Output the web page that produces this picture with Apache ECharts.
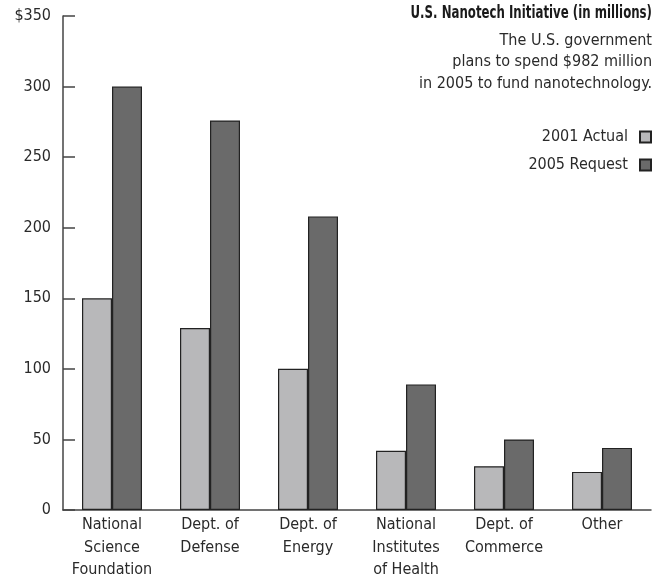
<!DOCTYPE html>
<html>
<head>
<meta charset="utf-8">
<script src="https://cdn.jsdelivr.net/npm/echarts@6/dist/echarts.min.js"></script>
<style>
  html, body { margin: 0; padding: 0; background: #fff; overflow: hidden; }
  #chart { width: 654px; height: 579px; }
</style>
</head>
<body>
<div id="chart"></div>
<script>
// Agencies funded under the U.S. Nanotech Initiative
const categories = [
  'National\nScience\nFoundation',
  'Dept. of\nDefense',
  'Dept. of\nEnergy',
  'National\nInstitutes\nof Health',
  'Dept. of\nCommerce',
  'Other'
];
// Spending in millions of dollars
const actual2001 = [150, 129, 100, 42, 31, 27];
const request2005 = [300, 276, 208, 89, 50, 44];

const titleText = 'U.S. Nanotech Initiative (in millions)';
const noteLines = [
  'The U.S. government',
  'plans to spend $982 million',
  'in 2005 to fund nanotechnology.'
];

const FONT = '"Liberation Sans Narrow", "DejaVu Sans Condensed", "Liberation Sans", sans-serif';
const TEXT = '#2a2a2a';

const chart = echarts.init(document.getElementById('chart'), null, { renderer: 'canvas' });

// Header block, right-aligned to the chart edge; the bold line is squeezed horizontally
const headerGraphics = [
  {
    type: 'text', x: 652, y: 5, scaleX: 0.77,
    style: {
      text: titleText, fill: '#1a1a1a', font: 'bold 17px ' + FONT,
      textAlign: 'right', textVerticalAlign: 'top'
    }
  },
  {
    type: 'text', x: 652, y: 30,
    style: {
      text: noteLines.join('\n'), fill: TEXT, font: '16px ' + FONT,
      textAlign: 'right', textVerticalAlign: 'top', lineHeight: 21.5
    }
  }
];

chart.setOption({
  backgroundColor: '#ffffff',
  animation: false,
  textStyle: { fontFamily: FONT, color: TEXT },
  graphic: headerGraphics,
  legend: {
    orient: 'vertical',
    right: 2,
    top: 129,
    padding: 0,
    align: 'right',
    itemWidth: 11,
    itemHeight: 11,
    itemGap: 12,
    icon: 'rect',
    textStyle: { fontFamily: FONT, fontSize: 16, color: TEXT, padding: [0, 7, 0, 0] },
    data: ['2001 Actual', '2005 Request']
  },
  grid: { left: 63, right: 3, top: 16, bottom: 69, containLabel: false, outerBoundsMode: 'none' },
  xAxis: {
    type: 'category',
    data: categories,
    axisLine: { lineStyle: { color: '#444', width: 1.5 } },
    axisTick: { inside: true, length: 9, alignWithLabel: false, lineStyle: { color: '#444', width: 1.5 } },
    axisLabel: { fontFamily: FONT, fontSize: 16, color: TEXT, lineHeight: 22.5, margin: 4, interval: 0 }
  },
  yAxis: {
    type: 'value',
    min: 0,
    max: 350,
    interval: 50,
    axisLine: { show: true, lineStyle: { color: '#444', width: 1.5 } },
    axisTick: { show: true, inside: true, length: 12, lineStyle: { color: '#444', width: 1.5 } },
    splitLine: { show: false },
    axisLabel: {
      fontFamily: FONT, fontSize: 16, color: TEXT, margin: 12,
      formatter: v => (v === 350 ? '$350' : String(v))
    }
  },
  series: [
    {
      name: '2001 Actual',
      type: 'bar',
      data: actual2001,
      barWidth: 30,
      barGap: '0%',
      itemStyle: { color: '#b8b8ba', borderColor: '#222', borderWidth: 1.2 }
    },
    {
      name: '2005 Request',
      type: 'bar',
      data: request2005,
      barWidth: 30,
      barGap: '0%',
      itemStyle: { color: '#6a6a6a', borderColor: '#222', borderWidth: 1.2 }
    }
  ]
});
</script>
</body>
</html>
